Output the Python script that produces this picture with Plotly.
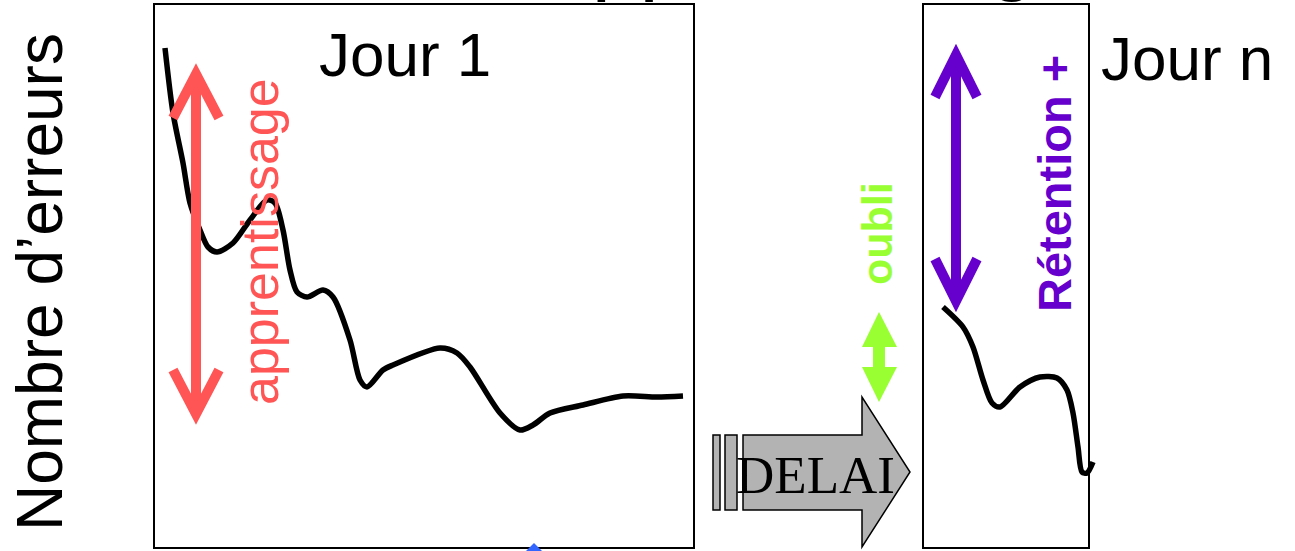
import plotly.graph_objects as go

W, H = 1295, 551

# ---- data (time within session vs. number of errors) ----
jour1_t = [11, 19, 29, 36, 46, 54, 63, 79, 96, 113, 121, 129, 136, 143, 153, 169, 179, 196,
           206, 213, 229, 239, 286, 303, 316, 346, 366, 379, 396, 429, 469, 503, 529]
jour1_err = [500, 435, 385, 345, 318, 301, 296, 305, 328, 348, 345, 318, 278, 256, 251, 258, 251, 208,
             168, 161, 178, 183, 200, 195, 181, 135, 118, 123, 135, 143, 152, 151, 152]
journ_t = [20, 40, 50, 60, 69, 77, 97, 117, 134, 144, 150, 155, 159, 164, 170]
journ_err = [241, 221, 201, 168, 145, 141, 161, 171, 170, 158, 135, 101, 76, 75, 86]

labels = {
    "ylabel": "Nombre d’erreurs",
    "day1": "Jour 1",
    "dayn": "Jour n",
    "learn": "apprentissage",
    "forget": "oubli",
    "retain": "Rétention +",
    "delay": "DELAI",
    "title": "Courbe d’apprentissage",
}

SANS = "Liberation Sans, Arial, sans-serif"
SERIF = "Liberation Serif, Times New Roman, serif"
RED = "#FF5555"
PURPLE = "#6600CC"
GREEN = "#99FF33"


def px(x):
    return x / W


def py(y):
    return 1 - y / H


def path(points, close=False):
    s = "M " + " L ".join(f"{px(x):.5f},{py(y):.5f}" for x, y in points)
    return s + (" Z" if close else "")


fig = go.Figure()
fig.add_trace(go.Scatter(x=jour1_t, y=jour1_err, mode="lines",
                         line=dict(color="black", width=5.5, shape="spline", smoothing=0.8),
                         xaxis="x", yaxis="y", showlegend=False, hoverinfo="skip"))
fig.add_trace(go.Scatter(x=journ_t, y=journ_err, mode="lines",
                         line=dict(color="black", width=5.5, shape="spline", smoothing=0.8),
                         xaxis="x2", yaxis="y2", showlegend=False, hoverinfo="skip"))

ax = dict(visible=False, fixedrange=True)
fig.update_layout(
    width=W, height=H, margin=dict(l=0, r=0, t=0, b=0),
    paper_bgcolor="white", plot_bgcolor="rgba(0,0,0,0)",
    xaxis=dict(domain=[px(154), px(694)], range=[0, 540], **ax),
    yaxis=dict(domain=[py(548), py(4)], range=[0, 544], **ax),
    xaxis2=dict(domain=[px(923), px(1100)], range=[0, 177], anchor="y2", **ax),
    yaxis2=dict(domain=[py(548), py(4)], range=[0, 544], anchor="x2", **ax),
)

shapes = []
# panel boxes
for x0, x1 in [(154, 694), (923, 1089)]:
    shapes.append(dict(type="rect", xref="paper", yref="paper",
                       x0=px(x0), x1=px(x1), y0=py(548), y1=py(4),
                       line=dict(color="black", width=2), layer="above"))

# red double arrow (apprentissage)
shapes.append(dict(type="path", xref="paper", yref="paper",
                   path=path([(196, 78), (196, 410)]), line=dict(color=RED, width=10)))
shapes.append(dict(type="path", xref="paper", yref="paper",
                   path=path([(173, 118), (196, 74), (219, 118)]), line=dict(color=RED, width=10)))
shapes.append(dict(type="path", xref="paper", yref="paper",
                   path=path([(173, 370), (196, 414), (219, 370)]), line=dict(color=RED, width=10)))

# purple double arrow (rétention)
shapes.append(dict(type="path", xref="paper", yref="paper",
                   path=path([(956, 58), (956, 298)]), line=dict(color=PURPLE, width=10)))
shapes.append(dict(type="path", xref="paper", yref="paper",
                   path=path([(935, 97), (956, 55), (977, 97)]), line=dict(color=PURPLE, width=10)))
shapes.append(dict(type="path", xref="paper", yref="paper",
                   path=path([(935, 259), (956, 301), (977, 259)]), line=dict(color=PURPLE, width=10)))

# green double arrow (oubli)
shapes.append(dict(type="path", xref="paper", yref="paper",
                   path=path([(862, 347), (879, 312), (897, 347)], close=True),
                   fillcolor=GREEN, line=dict(width=0)))
shapes.append(dict(type="rect", xref="paper", yref="paper",
                   x0=px(873), x1=px(885), y0=py(370), y1=py(344),
                   fillcolor=GREEN, line=dict(width=0)))
shapes.append(dict(type="path", xref="paper", yref="paper",
                   path=path([(862, 367), (897, 367), (879, 402)], close=True),
                   fillcolor=GREEN, line=dict(width=0)))

# DELAI block arrow
for x0, x1 in [(713, 720), (725, 737)]:
    shapes.append(dict(type="rect", xref="paper", yref="paper",
                       x0=px(x0), x1=px(x1), y0=py(510), y1=py(435),
                       fillcolor="#B3B3B3", line=dict(color="black", width=1.5)))
shapes.append(dict(type="path", xref="paper", yref="paper",
                   path=path([(743, 435), (862, 435), (862, 397), (910, 472),
                              (862, 547), (862, 510), (743, 510)], close=True),
                   fillcolor="#B3B3B3", line=dict(color="black", width=1.5)))

# small blue marker at bottom
shapes.append(dict(type="path", xref="paper", yref="paper",
                   path=path([(525, 552), (534, 543), (543, 552)], close=True),
                   fillcolor="#3366FF", line=dict(width=0)))

fig.update_layout(shapes=shapes)

ann = []


def text(t, x, y, size, color="black", family=SANS, angle=0, bold=False, xanchor="center", yanchor="middle"):
    ann.append(dict(text=f"<b>{t}</b>" if bold else t, x=px(x), y=py(y), xref="paper", yref="paper",
                    showarrow=False, textangle=angle, xanchor=xanchor, yanchor=yanchor,
                    font=dict(family=family, size=size, color=color)))


text(labels["ylabel"], 40, 282, 64, angle=-90)
text(labels["day1"], 405, 55, 62)
text(labels["dayn"], 1187, 58, 62)
text(labels["learn"], 260, 242, 52, color=RED, angle=-90)
text(labels["forget"], 877, 234, 43, color=GREEN, angle=-90, bold=True)
text(labels["retain"], 1055, 184, 47, color=PURPLE, angle=-90, bold=True)
text(labels["delay"], 815, 475, 53, family=SERIF)
text(labels["title"], 1086, 4, 86, xanchor="right", yanchor="bottom")

fig.update_layout(annotations=ann)
fig.write_html("out.html", config={"displayModeBar": False},
               post_script="document.body.style.margin='0';document.body.style.overflow='hidden';")
